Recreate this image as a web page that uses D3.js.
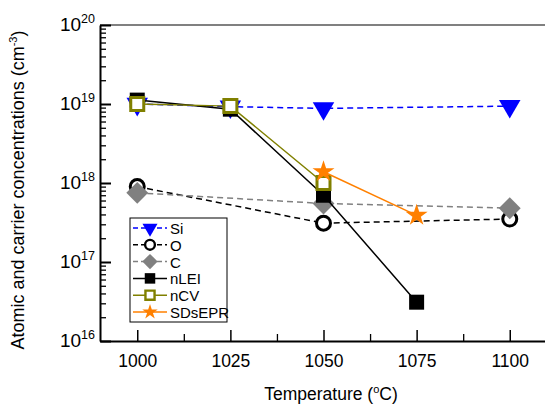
<!DOCTYPE html>
<html>
<head>
<meta charset="utf-8">
<script src="https://cdn.jsdelivr.net/npm/d3@7"></script>
<style>
  body { margin: 0; background: #fff; }
  text { font-family: "Liberation Sans", Arial, sans-serif; fill: #000; }
</style>
</head>
<body>
<div id="chart"></div>
<script>
// temperatures (C) and concentrations (cm^-3) per series
var xTicks = [1000, 1025, 1050, 1075, 1100];
var yDecades = [16, 17, 18, 19, 20];

var siT = [1000, 1025, 1050, 1100];
var siC = [1.0e19, 9.25e18, 8.8e18, 9.4e18];
var oT = [1000, 1050, 1100];
var oC = [9.0e17, 3.1e17, 3.5e17];
var cT = [1000, 1050, 1100];
var cC = [7.5e17, 5.5e17, 4.8e17];
var nleiT = [1000, 1025, 1050, 1075];
var nleiC = [1.12e19, 8.6e18, 7.0e17, 3.1e16];
var ncvT = [1000, 1025, 1050];
var ncvC = [1.0e19, 9.4e18, 1.0e18];
var sdT = [1050, 1075];
var sdC = [1.39e18, 3.9e17];

var chart = {};
chart.w = 545;
chart.h = 405;
chart.margin = { top: 25, right: -2, bottom: 64, left: 100 };

var svg = d3.select("#chart").append("svg")
  .attr("width", chart.w)
  .attr("height", chart.h);

var x = d3.scaleLinear()
  .domain([990, 1110])
  .range([chart.margin.left, chart.w - chart.margin.right]);

var y = d3.scaleLog()
  .domain([1e16, 1e20])
  .range([chart.h - chart.margin.bottom, chart.margin.top]);

var x0 = chart.margin.left, y0 = chart.h - chart.margin.bottom;

// top frame line (grey)
svg.append("line")
  .attr("x1", x0).attr("x2", chart.w)
  .attr("y1", chart.margin.top).attr("y2", chart.margin.top)
  .attr("stroke", "#808080").attr("stroke-width", 2);

// y axis (ticks inside)
var majorY = yDecades.map(function(d) { return Math.pow(10, d); });
var minorY = [];
for (var e = 16; e < 20; e++) {
  for (var m = 2; m <= 9; m++) minorY.push(m * Math.pow(10, e));
}
svg.append("g")
  .attr("transform", "translate(" + x0 + ",0)")
  .call(d3.axisRight(y).tickValues(minorY).tickSize(6).tickFormat("").tickSizeOuter(0))
  .call(function(g) { g.select(".domain").remove(); })
  .selectAll("line").attr("stroke", "#000").attr("stroke-width", 1.3);
svg.append("g")
  .attr("transform", "translate(" + x0 + ",0)")
  .call(d3.axisRight(y).tickValues(majorY).tickSize(11).tickFormat("").tickSizeOuter(0))
  .call(function(g) {
    g.select(".domain").attr("stroke-width", 2);
    g.selectAll("line").attr("stroke-width", 2);
  });

// y tick labels 10^n
var ylab = svg.append("g").selectAll("text")
  .data(yDecades)
  .enter().append("text")
    .attr("x", 95)
    .attr("y", function(d) { return y(Math.pow(10, d)) + 6; })
    .attr("text-anchor", "end")
    .style("font-size", "19px");
ylab.append("tspan").text("10");
ylab.append("tspan")
  .attr("dy", -8)
  .style("font-size", "12.5px")
  .text(function(d) { return d; });

// x axis (ticks inside, labels below)
var minorX = [1012.5, 1037.5, 1062.5, 1087.5];
svg.append("g")
  .attr("transform", "translate(0," + y0 + ")")
  .call(d3.axisBottom(x).tickValues(minorX).tickSizeInner(-7).tickSizeOuter(0).tickFormat(""))
  .call(function(g) { g.select(".domain").remove(); })
  .selectAll("line").attr("stroke-width", 1.3);
svg.append("g")
  .attr("transform", "translate(0," + y0 + ")")
  .call(d3.axisBottom(x).tickValues(xTicks).tickSizeInner(-11).tickSizeOuter(0)
    .tickPadding(14).tickFormat(d3.format("d")))
  .call(function(g) {
    g.select(".domain").attr("stroke-width", 2);
    g.selectAll("line").attr("stroke-width", 1.5);
    g.selectAll("text")
      .style("font-family", "Liberation Sans, Arial, sans-serif")
      .style("font-size", "17.5px");
  });

// axis titles
var xt = svg.append("text")
  .attr("x", 331).attr("y", 400)
  .attr("text-anchor", "middle")
  .style("font-size", "17.5px");
xt.append("tspan").text("Temperature (");
xt.append("tspan").attr("dy", -7).style("font-size", "11px").text("o");
xt.append("tspan").attr("dy", 7).text("C)");

var yt = svg.append("text")
  .attr("transform", "translate(24,190) rotate(-90)")
  .attr("text-anchor", "middle")
  .style("font-size", "18px");
yt.append("tspan").text("Atomic and carrier concentrations (cm");
yt.append("tspan").attr("dy", -7).style("font-size", "11px").text("-3");
yt.append("tspan").attr("dy", 7).text(")");

// series definitions
var series = [
  { name: "Si", t: siT, c: siC, color: "#0000ff", dash: "6,4", sym: "tri", fill: "#0000ff", stroke: "none" },
  { name: "O", t: oT, c: oC, color: "#000000", dash: "6,4", sym: "circle", fill: "#fff", stroke: "#000" },
  { name: "C", t: cT, c: cC, color: "#808080", dash: "6,4", sym: "diamond", fill: "#808080", stroke: "none" },
  { name: "nLEI", t: nleiT, c: nleiC, color: "#000000", dash: null, sym: "square", fill: "#000", stroke: "none" },
  { name: "nCV", t: ncvT, c: ncvC, color: "#808000", dash: null, sym: "osquare", fill: "#fff", stroke: "#808000" },
  { name: "SDsEPR", t: sdT, c: sdC, color: "#ff8000", dash: null, sym: "star", fill: "#ff8000", stroke: "none" }
];

function symbolPath(sym, k) {
  if (sym === "tri") return d3.symbol(d3.symbolTriangle, 200 * k * k)();
  if (sym === "circle") return d3.symbol(d3.symbolCircle, Math.PI * 49 * k * k)();
  if (sym === "diamond") return d3.symbol(d3.symbolSquare, 240 * k * k)();
  if (sym === "square") return d3.symbol(d3.symbolSquare, 225 * k * k)();
  if (sym === "osquare") return d3.symbol(d3.symbolSquare, 169 * k * k)();
  return d3.symbol(d3.symbolStar, 150 * k * k)();
}
function symbolRot(sym) {
  if (sym === "tri") return " rotate(180)";
  if (sym === "diamond") return " rotate(45)";
  return "";
}
function strokeW(sym, k) {
  if (sym === "circle" || sym === "osquare") return 3 * k;
  return 0;
}

var line = d3.line()
  .x(function(d) { return x(d[0]); })
  .y(function(d) { return y(d[1]); });

series.forEach(function(s) {
  var pts = s.t.map(function(t, i) { return [t, s.c[i]]; });
  svg.append("path")
    .datum(pts)
    .attr("d", line)
    .attr("fill", "none")
    .attr("stroke", s.color)
    .attr("stroke-width", 1.5)
    .attr("stroke-dasharray", s.dash);
  svg.append("g").selectAll("path")
    .data(pts)
    .enter().append("path")
      .attr("d", symbolPath(s.sym, 1))
      .attr("transform", function(d) {
        return "translate(" + x(d[0]) + "," + y(d[1]) + ")" + symbolRot(s.sym);
      })
      .attr("fill", s.fill)
      .attr("stroke", s.stroke)
      .attr("stroke-width", strokeW(s.sym, 1));
});

// legend
var leg = svg.append("g").attr("transform", "translate(130,218)");
leg.append("rect")
  .attr("width", 97).attr("height", 104)
  .attr("fill", "#fff").attr("stroke", "#000").attr("stroke-width", 1);
series.forEach(function(s, i) {
  var ly = 10 + i * 16.8;
  leg.append("line")
    .attr("x1", 3).attr("x2", 37)
    .attr("y1", ly).attr("y2", ly)
    .attr("stroke", s.color).attr("stroke-width", 1.5)
    .attr("stroke-dasharray", s.dash ? "5,3" : null);
  leg.append("path")
    .attr("d", symbolPath(s.sym, 0.7))
    .attr("transform", "translate(20," + ly + ")" + symbolRot(s.sym))
    .attr("fill", s.fill)
    .attr("stroke", s.stroke)
    .attr("stroke-width", strokeW(s.sym, 0.8));
  leg.append("text")
    .attr("x", 40).attr("y", ly + 6)
    .style("font-size", "15px")
    .text(s.name);
});
</script>
</body>
</html>
